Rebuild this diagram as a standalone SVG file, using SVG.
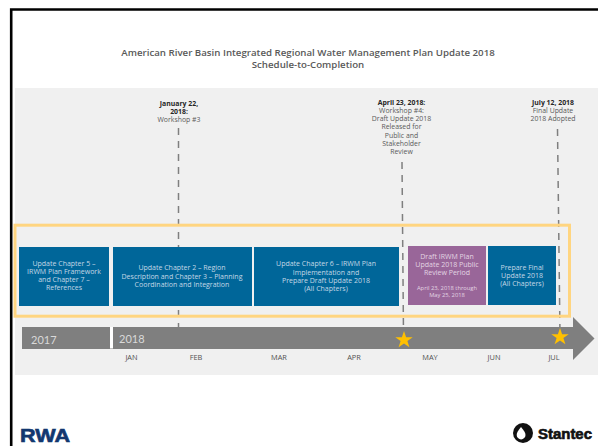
<svg xmlns="http://www.w3.org/2000/svg" width="598" height="446" viewBox="0 0 598 446">
<style>
text{font-family:"Open Sans","Liberation Sans",sans-serif;text-anchor:middle}
.title{font-size:9.7px;fill:#595959;font-weight:600}
.note{font-size:6.9px;fill:#595959}
.boxt{font-size:7px;fill:#c4d8e6}
.pur{fill:#e3d5e3}
.mon{font-size:7.4px;fill:#505050}
.yr{font-family:"Lato","Liberation Sans",sans-serif;font-size:11px;fill:#d9d9d9;text-anchor:start}
.dash{fill:none;stroke:#7f7f7f;stroke-width:1.5;stroke-dasharray:7 6}
.blue{fill:#006699}
.star{fill:#ffc000}
</style>
<rect width="598" height="446" fill="#fff"/>
<g id="frame">
<path d="M11.2 446V9.5H598" fill="none" stroke="#000" stroke-width="2.6"/>
<rect x="15" y="88" width="583" height="287" fill="#f0f0f0"/>
</g>
<g id="title">
<text class="title" x="308" y="56">American River Basin Integrated Regional Water Management Plan Update 2018</text>
<text class="title" x="308" y="68">Schedule-to-Completion</text>
</g>
<g id="connectors">
<path class="dash" d="M178.5 128V327"/>
<path class="dash" d="M402 162L403.5 335"/>
<path class="dash" d="M557.5 129L560 335"/>
</g>
<g id="highlight"><rect x="15" y="225.2" width="554.5" height="91" fill="none" stroke="#ffd580" stroke-width="3"/></g>
<g id="timeline">
<path d="M22 327H573V317L594.5 338.5L573 360V349H22Z" fill="#7f7f7f"/>
<rect x="110" y="327" width="3" height="21.5" fill="#fff"/>
<text class="yr" x="31" y="344">2017</text>
<text class="yr" x="119" y="343">2018</text>
</g>
<g id="months">
<text class="mon" x="131.5" y="360">JAN</text>
<text class="mon" x="196" y="360">FEB</text>
<text class="mon" x="279" y="360">MAR</text>
<text class="mon" x="354" y="360">APR</text>
<text class="mon" x="430" y="360">MAY</text>
<text class="mon" x="494" y="360">JUN</text>
<text class="mon" x="554" y="360">JUL</text>
</g>
<g id="node-ch5">
<rect class="blue" x="19" y="247" width="90" height="59"/>
<text class="boxt"><tspan x="64" y="266">Update Chapter 5 –</tspan><tspan x="64" y="274">IRWM Plan Framework</tspan><tspan x="64" y="282">and Chapter 7 –</tspan><tspan x="64" y="290">References</tspan></text>
</g>
<g id="node-ch2">
<rect class="blue" x="113" y="247" width="139" height="59"/>
<text class="boxt"><tspan x="182" y="270">Update Chapter 2 – Region</tspan><tspan x="182" y="279">Description and  Chapter 3 – Planning</tspan><tspan x="182" y="287">Coordination and Integration</tspan></text>
</g>
<g id="node-ch6">
<rect class="blue" x="254" y="247" width="145" height="59"/>
<text class="boxt"><tspan x="326" y="266">Update Chapter 6 – IRWM Plan</tspan><tspan x="326" y="275">Implementation and</tspan><tspan x="326" y="283">Prepare Draft Update 2018</tspan><tspan x="326" y="291">(All Chapters)</tspan></text>
</g>
<g id="node-draft">
<rect x="408" y="246" width="78" height="59" fill="#996699"/>
<text class="boxt pur"><tspan x="447" y="259">Draft IRWM Plan</tspan><tspan x="447" y="267">Update 2018 Public</tspan><tspan x="447" y="275">Review Period</tspan></text>
<text class="boxt pur" style="font-size:5.8px"><tspan x="447" y="290">April 23, 2018 through</tspan><tspan x="447" y="297">May 25, 2018</tspan></text>
</g>
<g id="node-final">
<rect class="blue" x="488" y="246" width="68" height="59"/>
<text class="boxt"><tspan x="522" y="270">Prepare Final</tspan><tspan x="522" y="278">Update 2018</tspan><tspan x="522" y="286">(All Chapters)</tspan></text>
</g>
<g id="note-jan">
<text class="note"><tspan x="179" y="106" font-weight="700" fill="#262626">January 22,</tspan><tspan x="179" y="114" font-weight="700" fill="#262626">2018:</tspan><tspan x="179" y="122">Workshop #3</tspan></text>
</g>
<g id="note-apr">
<text class="note"><tspan x="401.5" y="105" font-weight="700" fill="#262626">April 23, 2018:</tspan><tspan x="401.5" y="113">Workshop #4:</tspan><tspan x="401.5" y="121">Draft Update 2018</tspan><tspan x="401.5" y="129">Released for</tspan><tspan x="401.5" y="138">Public and</tspan><tspan x="401.5" y="146">Stakeholder</tspan><tspan x="401.5" y="154">Review</tspan></text>
</g>
<g id="note-jul">
<text class="note"><tspan x="553" y="105" font-weight="700" fill="#262626">July 12, 2018</tspan><tspan x="553" y="113">Final Update</tspan><tspan x="553" y="121">2018 Adopted</tspan></text>
</g>
<g id="stars">
<path class="star" d="M404 331L406.1 337.2H412.7L407.4 341L409.4 347.2L404 343.4L398.6 347.2L400.6 341L395.3 337.2H401.9Z"/>
<path class="star" d="M560 328L562.1 334.2H568.7L563.4 338L565.4 344.2L560 340.4L554.6 344.2L556.6 338L551.3 334.2H557.9Z"/>
</g>
<g id="logo-rwa">
<text x="20" y="442" textLength="50" lengthAdjust="spacingAndGlyphs" style="font-family:'Liberation Sans',sans-serif;text-anchor:start;font-weight:700;font-size:18px;fill:#12376f;stroke:#12376f;stroke-width:.6">RWA</text>
</g>
<g id="logo-stantec">
<circle cx="523" cy="433" r="10" fill="#111"/>
<path d="M521 427C524 430.5 525.5 432.5 525.5 435A4.4 4.4 0 0 1 516.7 435C516.7 432.5 518 430.5 521 427Z" fill="#fff"/>
<path d="M528 422L531 426L533 424Z" fill="#fff"/>
<text x="538" y="439" textLength="54" lengthAdjust="spacingAndGlyphs" style="font-family:'Liberation Sans',sans-serif;text-anchor:start;font-weight:700;font-size:14px;fill:#111;stroke:#111;stroke-width:.6">Stantec</text>
</g>
</svg>
